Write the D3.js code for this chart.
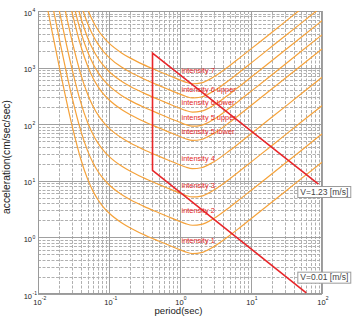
<!DOCTYPE html>
<html><head><meta charset="utf-8">
<script src="https://cdn.jsdelivr.net/npm/d3@7"></script>
<style>body{margin:0;background:#fff}svg{display:block}text{font-family:"Liberation Sans",Arial,sans-serif}</style>
</head><body>
<svg id="c" width="360" height="322"></svg>
<script>
// ---- data ----
const periods = [0.01,0.015,0.02,0.03,0.04,0.05,0.06,0.07,0.08,0.1,0.15,0.2,0.3,0.5,0.7,1,1.2,1.5,2,3,5,7,10,20,50,100];
const curveI05 = [78500,5970,1005,97.1,24.3,10.7,6.44,4.62,3.66,2.70,1.82,1.47,1.14,0.864,0.726,0.605,0.554,0.518,0.537,0.687,1.08,1.50,2.14,4.26,10.7,21.3];
const curveI15 = [248000,18900,3180,307,76.9,33.8,20.4,14.6,11.6,8.53,5.74,4.64,3.61,2.73,2.29,1.91,1.75,1.64,1.70,2.17,3.42,4.74,6.75,13.5,33.7,67.4];
const curveI25 = [785000,59700,10000,971,243,107,64.4,46.2,36.6,27.0,18.2,14.7,11.4,8.64,7.26,6.05,5.54,5.18,5.37,6.87,10.8,15.0,21.4,42.6,107,213];
const curveI35 = [2480000,189000,31800,3070,769,338,204,146,116,85.3,57.4,46.4,36.1,27.3,22.9,19.1,17.5,16.4,17.0,21.7,34.2,47.4,67.5,135,337,674];
const curveI45 = [7850000,597000,100000,9710,2430,1070,644,462,366,270,182,147,114,86.4,72.6,60.5,55.4,51.8,53.7,68.7,108,150,214,426,1070,2130];
const curveI50 = [14000000,1062000,179000,17300,4330,1900,1150,823,652,480,323,261,203,154,129,108,98.6,92.1,95.5,122,193,267,380,758,1900,3790];
const curveI55 = [24800000,1887000,318000,30700,7690,3380,2040,1460,1160,853,574,464,361,273,229,191,175,164,170,217,342,474,675,1350,3370,6740];
const curveI60 = [44100000,3357000,565000,54600,13700,6010,3620,2600,2060,1520,1020,826,643,486,408,340,312,291,302,386,608,843,1200,2400,5990,12000];
const curveI65 = [78500000,5971000,1004500,97100,24300,10700,6440,4620,3660,2700,1820,1470,1140,864,726,605,554,518,537,687,1080,1500,2140,4260,10700,21300];

const intensityLabels = ["intensity 7","intensity 6 upper","intensity 6 lower","intensity 5 upper","intensity 5 lower","intensity 4","intensity 3","intensity 2","intensity 1"];
const intensityLabelPeriod = 1.05;
const intensityLabelAccel = [881,414,244,130,76,25.3,8.4,3.05,0.90];

const redPeriods = [89, 0.41, 0.41, 60];
const redAccels  = [8.7, 1800, 15.3, 0.105];

const velocityLabels = ["V=1.23 [m/s]", "V=0.01 [m/s]"];
const velocityLabelPeriod = [44.9, 44.9];
const velocityLabelAccel = [8.09, 0.248];

const xTickExp = [-2,-1,0,1,2];
const yTickExp = [-1,0,1,2,3,4];

// ---- drawing ----
const L=38,R=322,T=11,B=294;
const x = d3.scaleLog().domain([0.01,100]).range([L,R]);
const y = d3.scaleLog().domain([0.1,10000]).range([B,T]);
const svg = d3.select("#c");

svg.append("defs").append("clipPath").attr("id","clip")
  .append("rect").attr("x",L).attr("y",T).attr("width",R-L).attr("height",B-T);

const isPow = v => Math.abs(Math.log10(v) - Math.round(Math.log10(v))) < 1e-6;
const xt = x.ticks(), yt = y.ticks();
const grid = svg.append("g");
grid.selectAll(".vx").data(xt.filter(v=>!isPow(v))).join("line")
  .attr("x1",d=>Math.round(x(d))+0.5).attr("x2",d=>Math.round(x(d))+0.5).attr("y1",T).attr("y2",B)
  .attr("stroke","#b0b0b0").attr("stroke-dasharray","3,1.5").attr("stroke-width",1);
grid.selectAll(".hy").data(yt.filter(v=>!isPow(v))).join("line")
  .attr("y1",d=>Math.round(y(d))+0.5).attr("y2",d=>Math.round(y(d))+0.5).attr("x1",L).attr("x2",R)
  .attr("stroke","#b0b0b0").attr("stroke-dasharray","3,1.5").attr("stroke-width",1);
grid.selectAll(".vX").data(xt.filter(isPow)).join("line")
  .attr("x1",d=>Math.round(x(d))+0.5).attr("x2",d=>Math.round(x(d))+0.5).attr("y1",T).attr("y2",B)
  .attr("stroke","#a0a0a0").attr("stroke-width",1);
grid.selectAll(".hY").data(yt.filter(isPow)).join("line")
  .attr("y1",d=>Math.round(y(d))+0.5).attr("y2",d=>Math.round(y(d))+0.5).attr("x1",L).attr("x2",R)
  .attr("stroke","#a0a0a0").attr("stroke-width",1);
svg.append("rect").attr("x",L+0.5).attr("y",T+0.5).attr("width",R-L-1).attr("height",B-T-1)
  .attr("fill","none").attr("stroke","#9a9a9a");

const curves = [curveI05,curveI15,curveI25,curveI35,curveI45,curveI50,curveI55,curveI60,curveI65];
const line = d3.line().x(d=>x(d[0])).y(d=>y(d[1])).curve(d3.curveMonotoneX);
svg.append("g").attr("clip-path","url(#clip)").selectAll("path").data(curves).join("path")
  .attr("d",c=>line(periods.map((p,i)=>[p,c[i]])))
  .attr("fill","none").attr("stroke","#f5a23a").attr("stroke-width",1.2);

svg.append("path").attr("d",d3.line().x(d=>x(d[0])).y(d=>y(d[1]))(redPeriods.map((p,i)=>[p,redAccels[i]])))
  .attr("fill","none").attr("stroke","#e8262a").attr("stroke-width",1.6).attr("stroke-linejoin","miter");

svg.append("g").selectAll("text").data(intensityLabels).join("text")
  .attr("x",x(intensityLabelPeriod)).attr("y",(d,i)=>y(intensityLabelAccel[i])).attr("dy","0.35em")
  .attr("font-size","7.4px").attr("fill","#e31e24").text(d=>d);

velocityLabels.forEach((t,i)=>{
  const g = svg.append("g").attr("transform",`translate(${x(velocityLabelPeriod[i])},${y(velocityLabelAccel[i])})`);
  const r = g.append("rect").attr("fill","#fff").attr("stroke","#9a9a9a").attr("stroke-width",1);
  const tx = g.append("text").attr("x",3).attr("y",8.8).attr("font-size","8.5px").attr("fill","#444").text(t);
  const w = tx.node().getComputedTextLength();
  r.attr("x",0.5).attr("y",0.5).attr("width",w+5).attr("height",11);
});

// tick labels
const tl = svg.append("g").attr("fill","#222");
xTickExp.forEach(e=>{
  const px = x(Math.pow(10,e));
  tl.append("text").attr("x",px-0.5).attr("y",304.5).attr("text-anchor","middle").attr("font-size","7.5px").text("10");
  tl.append("text").attr("x",px+3.8).attr("y",300).attr("font-size","5px").text(String(e));
});
yTickExp.forEach(e=>{
  const py = y(Math.pow(10,e));
  tl.append("text").attr("x",32).attr("y",py+4.5).attr("text-anchor","end").attr("font-size","7.5px").text("10");
  tl.append("text").attr("x",32.5).attr("y",py+1.2).attr("font-size","5px").text(String(e));
});

svg.append("text").attr("transform","translate(10,157) rotate(-90)").attr("text-anchor","middle")
  .attr("font-size","10.3px").attr("fill","#222").text("acceleration(cm/sec/sec)");
svg.append("text").attr("x",178.5).attr("y",314).attr("text-anchor","middle")
  .attr("font-size","9.6px").attr("fill","#222").text("period(sec)");
</script>
</body></html>
